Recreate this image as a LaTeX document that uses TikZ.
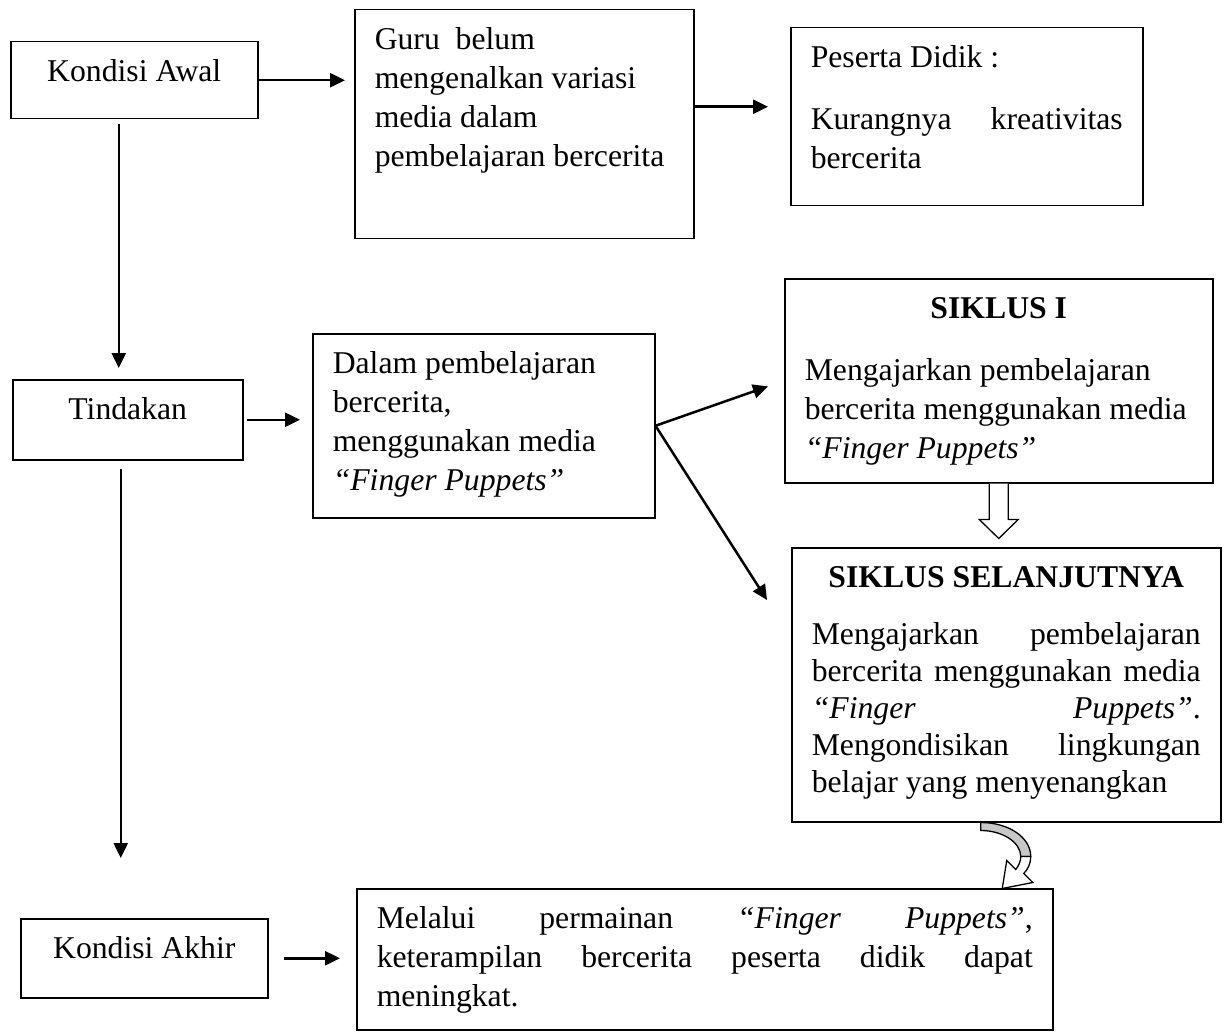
\documentclass[tikz,border=0pt]{standalone}
\usepackage{fontspec}
\setmainfont{Liberation Serif}
\usetikzlibrary{arrows.meta}

\newcommand{\boxtext}[3]{\parbox[c][#2][t]{#1}{\raggedright\rule{0pt}{40pt}#3}}

\begin{document}
\begin{tikzpicture}[x=1pt, y=-1pt, >={Triangle[length=15pt,width=14pt]},
        box/.style={draw, line width=1.5pt, anchor=north west, inner xsep=20pt, inner ysep=0pt,
            font=\fontsize{31.7}{39}\selectfont},
        arr/.style={->, line width=2.5pt}]
    \useasboundingbox (0,0) rectangle (1225,1032);

    \node[box] (awal) at (10,41) {\boxtext{207pt}{77pt}{\makebox[\linewidth]{Kondisi Awal}}};
    \node[box] (guru) at (354,9) {\boxtext{299pt}{229pt}{Guru\ \ belum\\ mengenalkan variasi\\ media dalam\\ pembelajaran bercerita}};
    \node[box] (peserta) at (790,27) {\boxtext{312pt}{178pt}{Peserta Didik :\\[23pt] Kurangnya\hfill kreativitas\\ bercerita}};

    \node[box] (tindakan) at (12,379) {\boxtext{190pt}{80pt}{\makebox[\linewidth]{Tindakan}}};
    \node[box] (dalam) at (312,333) {\boxtext{302pt}{184pt}{Dalam pembelajaran\\ bercerita,\\ menggunakan media\\ \textit{“Finger Puppets”}}};
    \node[box] (s1) at (784,278) {\boxtext{388pt}{204pt}{\makebox[\linewidth]{\textbf{SIKLUS I}}\\[23pt] Mengajarkan pembelajaran\\ bercerita menggunakan media\\ \textit{“Finger Puppets”}}};
    \node[box, font=\fontsize{31.7}{37}\selectfont] (s2) at (791,547) {\boxtext{389pt}{274pt}{\makebox[\linewidth]{\textbf{SIKLUS SELANJUTNYA}}\\[20pt] Mengajarkan\hfill pembelajaran\\ bercerita\hfill menggunakan\hfill media\\ \textit{“Finger}\hfill\textit{Puppets”}.\\ Mengondisikan\hfill lingkungan\\ belajar yang menyenangkan}};

    \node[box] (akhir) at (20,918) {\boxtext{207pt}{79pt}{\makebox[\linewidth]{Kondisi Akhir}}};
    \node[box] (melalui) at (356,888) {\boxtext{656pt}{141pt}{Melalui\hfill permainan\hfill \textit{“Finger}\hfill\textit{Puppets”},\\ keterampilan\hfill bercerita\hfill peserta\hfill didik\hfill dapat\\ meningkat.}};

    \draw[arr, shorten >=9pt] (awal.east) -- (awal.east -| guru.west);
    \draw[arr, shorten >=22pt] ([yshift=10pt]peserta.west -| guru.east) -- ([yshift=10pt]peserta.west);
    \draw[arr, shorten <=5pt, shorten >=11pt] ([xshift=-15.5pt]awal.south) -- ([xshift=-15.5pt]awal.south |- tindakan.north);
    \draw[arr, shorten <=3pt, shorten >=12pt] (tindakan.east) -- (tindakan.east -| dalam.west);
    \draw[arr, shorten >=17pt] (dalam.east) -- (s1.west);
    \draw[arr] (dalam.east) -- ([xshift=-24pt,yshift=-53pt]s2.north west);
    \draw[arr, shorten <=8pt, shorten >=60pt] ([xshift=-7pt]tindakan.south) -- ([xshift=-7pt]tindakan.south |- akhir.north);
    \draw[arr, shorten <=15pt, shorten >=16pt] (akhir.east) -- (akhir.east -| melalui.west);

    \begin{scope}[shift={(s1.south)}]
        \draw[line width=1.3pt, fill=white] (-9.5,0) -- (-9.5,36) -- (-19.5,36) -- (0,55) -- (19.5,36) -- (9.5,36) -- (9.5,0);
    \end{scope}

    \begin{scope}[shift={(s2.south)}, line width=1.3pt]
        \draw[fill=black!22] (-25.5,0) .. controls (2.5,0) and (24.5,15) .. (24.5,34) -- (14.5,34)
            .. controls (14.5,20) and (-3.5,8) .. (-25.5,8) -- cycle;
        \draw[fill=white] (24.5,34) .. controls (24.5,41) and (21.5,47) .. (17.5,51) -- (26.5,60) -- (-4,66)
            -- (0.5,38) -- (9.5,47) .. controls (12.5,43) and (14.5,39) .. (14.5,34) -- cycle;
    \end{scope}
\end{tikzpicture}
\end{document}
